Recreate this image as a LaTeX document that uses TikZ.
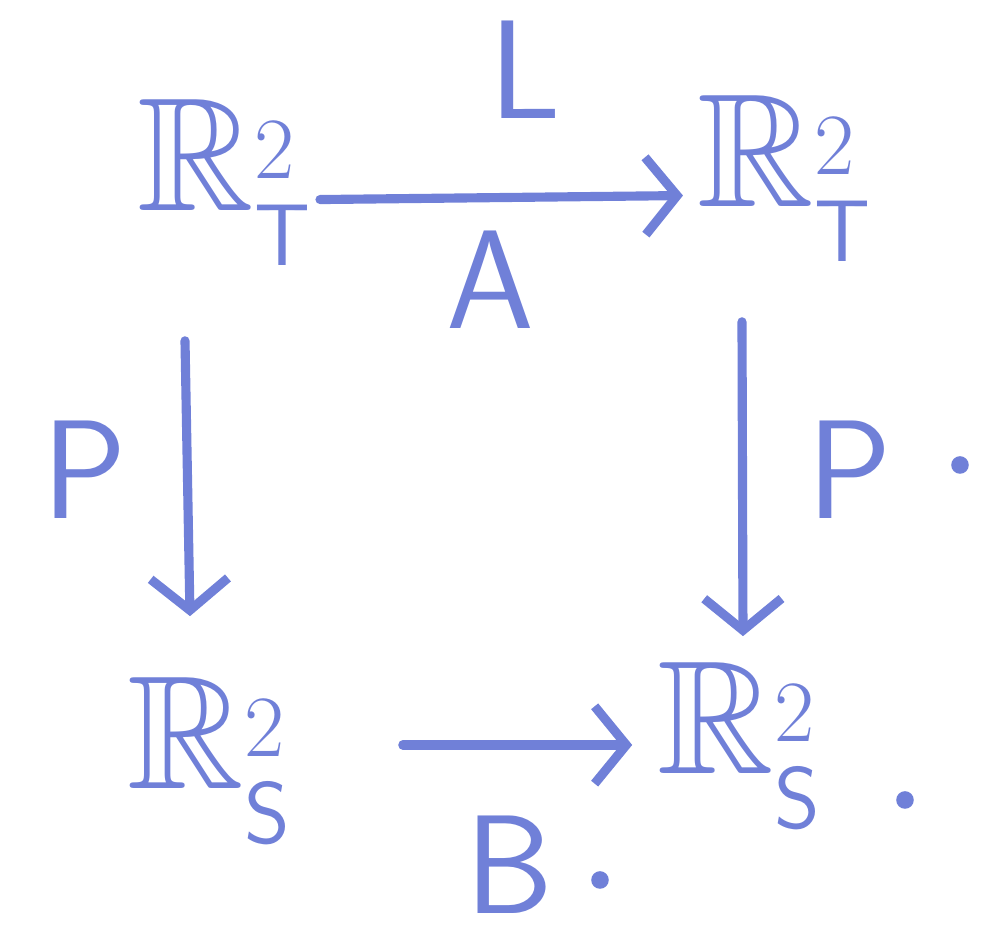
\documentclass[tikz,border=0pt]{standalone}
\usepackage{amsmath,amssymb}
\usetikzlibrary{arrows.meta}
\definecolor{ink}{RGB}{112,128,216}
\begin{document}
\begin{tikzpicture}[
	space/.style={text=ink,font=\fontsize{46}{52}\selectfont,inner sep=0pt},
	lbl/.style={text=ink,font=\fontsize{40}{46}\selectfont\sffamily,inner sep=0pt},
	map/.style={draw=ink,line width=2.6pt,line cap=round,-{Straight Barb[length=9pt,width=22pt,line width=2.6pt]}},
	spot/.style={fill=ink,circle,inner sep=0pt,minimum size=5pt}]
	\useasboundingbox (0,0) rectangle (9.98,9.42);
	
	%spaces
	\node[space] (RT1) at (2.25,7.6) {$\mathbb{R}^2_{\mathsf{T}}$};
	\node[space] (RT2) at (7.85,7.64) {$\mathbb{R}^2_{\mathsf{T}}$};
	\node[space] (RS1) at (2.1,1.82) {$\mathbb{R}^2_{\mathsf{S}}$};
	\node[space] (RS2) at (7.4,1.97) {$\mathbb{R}^2_{\mathsf{S}}$};
	
	%maps
	\draw[map] ([xshift=2pt,yshift=-5pt]RT1.east) -- ([xshift=-4pt,yshift=-5pt]RT2.west);
	\draw[map] ([xshift=-0.4cm,yshift=-0.75cm]RT1.south) -- ([xshift=-0.2cm,yshift=0.6cm]RS1.north);
	\draw[map] ([xshift=-0.43cm,yshift=-0.6cm]RT2.south) -- ([xshift=0.03cm,yshift=0.25cm]RS2.north);
	\draw[map] ([xshift=1.1cm,yshift=0.15cm]RS1.east) -- ([xshift=-0.25cm,yshift=0.0cm]RS2.west);
	
	%labels
	\node[lbl] (L) at (5.25,8.72) {L};
	\node[lbl] (A) at (4.9,6.62) {A};
	\node[lbl] (P1) at (0.85,4.72) {P};
	\node[lbl] (P2) at (8.5,4.72) {P};
	\node[lbl] (B) at (5.1,0.77) {B};
	
	%dots
	\node[spot] (d1) at (9.6,4.77) {};
	\node[spot] (d2) at (9.05,1.42) {};
	\node[spot] (d3) at (6.0,0.62) {};
\end{tikzpicture}
\end{document}
